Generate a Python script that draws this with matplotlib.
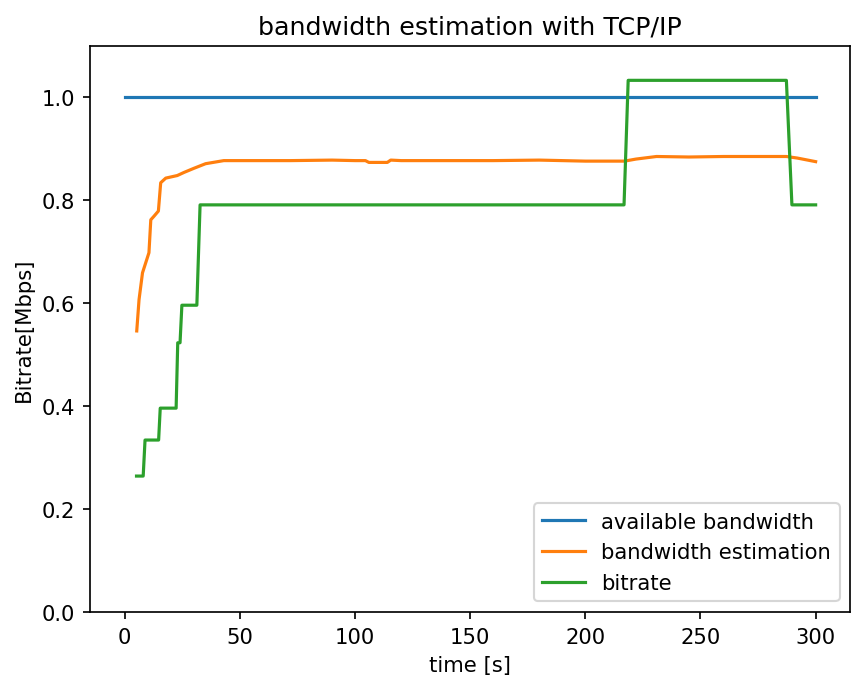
import matplotlib.pyplot as plt

# available bandwidth (constant link capacity)
avail_t = [0, 300]
avail_bw = [1.0, 1.0]

# bandwidth estimation
est_t = [5.2, 6.2, 7.7, 10.5, 11.3, 12.7, 14.6, 15.6, 17.8, 22.8, 25.7, 30, 35.1, 43.0,
         60, 72, 90, 100, 104.5, 106, 114, 115.5, 120, 140, 160, 180, 200, 210,
         217, 222, 230.9, 245, 260, 275, 287.3, 292, 300]
est_bw = [0.546, 0.607, 0.659, 0.698, 0.762, 0.769, 0.779, 0.834, 0.843, 0.848, 0.854,
          0.862, 0.871, 0.877, 0.877, 0.877, 0.878, 0.877, 0.877, 0.8735, 0.8735, 0.878,
          0.877, 0.877, 0.877, 0.878, 0.876, 0.876, 0.876, 0.880, 0.885, 0.884, 0.885,
          0.885, 0.885, 0.882, 0.875]

# selected bitrate
rate_t = [5.1, 8.0, 8.8, 14.7, 15.4, 22.3, 23.0, 24.0, 24.8, 31.3, 32.7,
          216.8, 218.6, 287.3, 289.7, 300]
rate_bw = [0.264, 0.264, 0.334, 0.334, 0.396, 0.396, 0.523, 0.523, 0.596, 0.596, 0.791,
           0.791, 1.033, 1.033, 0.791, 0.791]

fig, ax = plt.subplots(figsize=(5.6, 4.46), dpi=152)
fig.subplots_adjust(left=0.106, right=0.9988, top=0.931, bottom=0.096)

ax.plot(avail_t, avail_bw, label="available bandwidth")
ax.plot(est_t, est_bw, label="bandwidth estimation")
ax.plot(rate_t, rate_bw, label="bitrate")

ax.set_ylim(0, 1.1)
ax.set_xlabel("time [s]")
ax.set_ylabel("Bitrate[Mbps]")
ax.set_title("bandwidth estimation with TCP/IP")
ax.legend(loc="lower right")

fig.savefig("out.png", dpi=152)
